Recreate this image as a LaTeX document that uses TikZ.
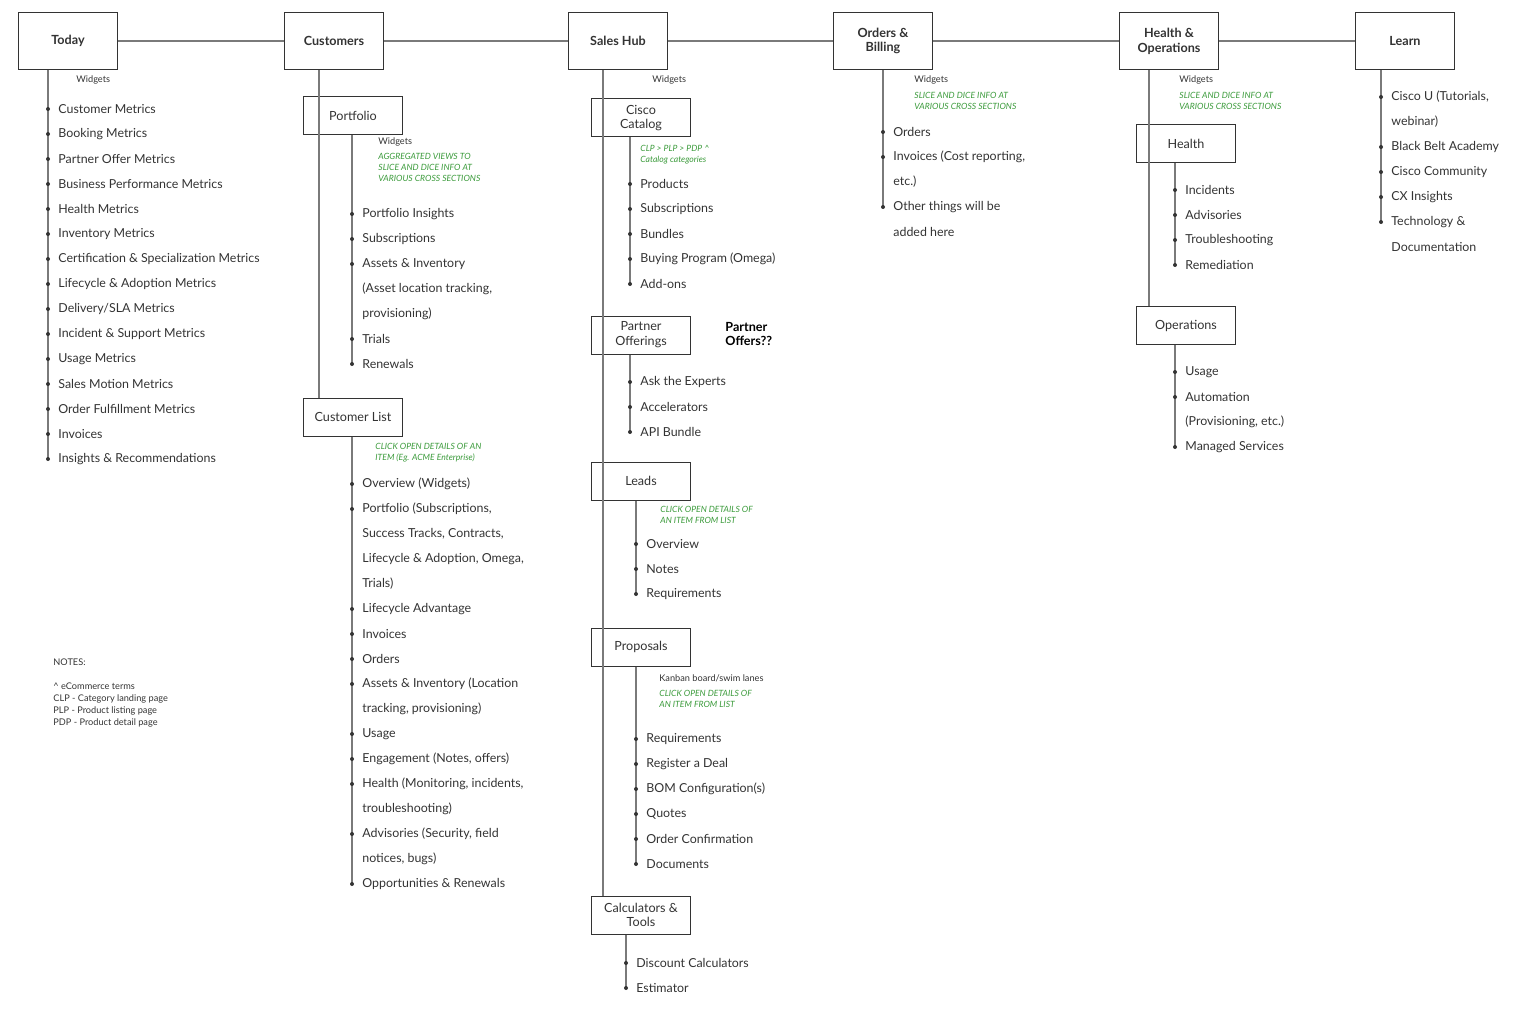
\documentclass[tikz,border=0pt]{standalone}
\usepackage{fontspec}
\setmainfont{Lato}
\usetikzlibrary{positioning}
\definecolor{linegray}{HTML}{7A7A7A}
\definecolor{txtgray}{HTML}{333333}
\definecolor{notegreen}{HTML}{3A9A3A}
\tikzset{
    box/.style={
        draw=txtgray,
        fill=white,
        line width=0.5pt,
        minimum width=49.5pt,
        align=center,
        inner sep=1pt,
        text=txtgray,
        font=\fontsize{6.3}{7.4}\selectfont
    },
    topbox/.style={box, minimum height=28.5pt, font=\fontsize{6.3}{7.4}\selectfont\bfseries},
    subbox/.style={box, minimum height=19pt},
    item/.style={anchor=west, inner sep=0pt, text=txtgray, font=\fontsize{6.2}{7}\selectfont},
    tiny/.style={anchor=west, inner sep=0pt, text=txtgray, font=\fontsize{4.6}{5.5}\selectfont},
    note/.style={anchor=north west, inner sep=0pt, align=left, text=notegreen,
        font=\fontsize{4.3}{5.5}\selectfont\itshape},
    link/.style={draw=linegray, line width=0.6pt}
}
% list of items along a vertical line: bullet flag / text
\newcommand\itemlist[3]{%
    \foreach \b/\t [count=\i from 0] in {#3}{%
        \node[item] at ({#1+10},{#2+1+25*\i}) {\t};
        \ifnum\b=1 \fill[txtgray] ({#1},{#2+1+25*\i}) circle (2);\fi
    }%
}
\begin{document}
\begin{tikzpicture}[x=0.5pt,y=-0.5pt]
    \useasboundingbox (0,0) rectangle (1515,1011);

    % top level
    \node[topbox] (today) at (68,41) {Today};
    \node[topbox] (cust) at (334,41) {Customers};
    \node[topbox] (sales) at (618,41) {Sales Hub};
    \node[topbox] (orders) at (883,41) {Orders \&\\Billing};
    \node[topbox] (health) at (1169,41) {Health \&\\Operations};
    \node[topbox] (learn) at (1405,41) {Learn};
    \draw[link] (today) -- (cust) -- (sales) -- (orders) -- (health) -- (learn);

    % Today
    \coordinate (todayend) at (48,458);
    \draw[link] (today.south -| todayend) -- (todayend);
    \node[tiny] at (76,80) {Widgets};
    \itemlist{48}{108}{1/Customer Metrics, 1/Booking Metrics, 1/Partner Offer Metrics,
        1/Business Performance Metrics, 1/Health Metrics, 1/Inventory Metrics,
        1/Certification \& Specialization Metrics, 1/Lifecycle \& Adoption Metrics,
        1/{Delivery/SLA Metrics}, 1/Incident \& Support Metrics, 1/Usage Metrics,
        1/Sales Motion Metrics, 1/Order Fulfillment Metrics, 1/Invoices,
        1/Insights \& Recommendations}

    \node[tiny] at (53,662) {NOTES:};
    \node[tiny, anchor=north west, align=left, font=\fontsize{4.6}{6}\selectfont] at (53,682)
        {\^{} eCommerce terms\\CLP - Category landing page\\PLP - Product listing page\\PDP - Product detail page};

    % Customers
    \node[subbox] (port) at (353,115.5) {Portfolio};
    \node[subbox] (clist) at (353,417) {Customer List};
    \coordinate (custx) at (319,0);
    \draw[link] (cust.south -| custx) -- (clist.north -| custx);
    \coordinate (portend) at (352,364);
    \draw[link] (port.south -| portend) -- (portend);
    \node[tiny] at (378,142) {Widgets};
    \node[note] at (378,153) {AGGREGATED VIEWS TO\\SLICE AND DICE INFO AT\\VARIOUS CROSS SECTIONS};
    \itemlist{352}{213}{1/Portfolio Insights, 1/Subscriptions, 1/Assets \& Inventory,
        0/{(Asset location tracking,}, 0/provisioning), 1/Trials, 1/Renewals}
    \coordinate (clistend) at (352,884);
    \draw[link] (clist.south -| clistend) -- (clistend);
    \node[note] at (375,443) {CLICK OPEN DETAILS OF AN\\ITEM (Eg. ACME Enterprise)};
    \itemlist{352}{483}{1/Overview (Widgets), 1/{Portfolio (Subscriptions,},
        0/{Success Tracks, Contracts,}, 0/{Lifecycle \& Adoption, Omega,}, 0/Trials),
        1/Lifecycle Advantage, 1/Invoices, 1/Orders, 1/Assets \& Inventory (Location,
        0/{tracking, provisioning)}, 1/Usage, 1/{Engagement (Notes, offers)},
        1/{Health (Monitoring, incidents,}, 0/troubleshooting), 1/{Advisories (Security, field},
        0/{notices, bugs)}, 1/Opportunities \& Renewals}

    % Sales Hub
    \node[tiny] at (652,80) {Widgets};
    \node[subbox] (catalog) at (641,118) {Cisco\\Catalog};
    \node[subbox] (partner) at (641,335) {Partner\\Offerings};
    \node[subbox] (leads) at (641,481) {Leads};
    \node[subbox] (props) at (641,647) {Proposals};
    \node[subbox] (calc) at (641,915) {Calculators \&\\Tools};
    \coordinate (salesx) at (603,0);
    \draw[link] (sales.south -| salesx) -- (calc.north -| salesx);

    \coordinate (catend) at (630,284);
    \draw[link] (catalog.south -| catend) -- (catend);
    \node[note] at (640,145) {CLP > PLP > PDP \^{}\\Catalog categories};
    \itemlist{630}{183}{1/Products, 1/Subscriptions, 1/Bundles, 1/Buying Program (Omega), 1/Add-ons}

    \node[anchor=west, align=left, inner sep=0pt, text=black,
        font=\fontsize{6.3}{7.4}\selectfont\bfseries] at (725,334) {Partner\\Offers??};
    \coordinate (partend) at (630,432);
    \draw[link] (partner.south -| partend) -- (partend);
    \itemlist{630}{381}{1/Ask the Experts, 1/Accelerators, 1/API Bundle}

    \coordinate (leadsend) at (636,594);
    \draw[link] (leads.south -| leadsend) -- (leadsend);
    \node[note] at (660,506) {CLICK OPEN DETAILS OF\\AN ITEM FROM LIST};
    \itemlist{636}{543}{1/Overview, 1/Notes, 1/Requirements}

    \coordinate (propsend) at (636,864);
    \draw[link] (props.south -| propsend) -- (propsend);
    \node[tiny] at (659,678) {Kanban board/swim lanes};
    \node[note] at (659,690) {CLICK OPEN DETAILS OF\\AN ITEM FROM LIST};
    \itemlist{636}{738}{1/Requirements, 1/Register a Deal, 1/BOM Configuration(s),
        1/Quotes, 1/Order Confirmation, 1/Documents}

    \coordinate (calcend) at (626,988);
    \draw[link] (calc.south -| calcend) -- (calcend);
    \itemlist{626}{962}{1/Discount Calculators, 1/Estimator}

    % Orders & Billing
    \coordinate (ordend) at (883,207);
    \draw[link] (orders.south -| ordend) -- (ordend);
    \node[tiny] at (914,80) {Widgets};
    \node[note] at (914,92) {SLICE AND DICE INFO AT\\VARIOUS CROSS SECTIONS};
    \itemlist{883}{131}{1/Orders, 1/{Invoices (Cost reporting,}, 0/etc.), 1/Other things will be, 0/added here}

    % Health & Operations
    \node[tiny] at (1179,80) {Widgets};
    \node[note] at (1179,92) {SLICE AND DICE INFO AT\\VARIOUS CROSS SECTIONS};
    \node[subbox] (hlth) at (1186,143.5) {Health};
    \node[subbox] (ops) at (1186,325.5) {Operations};
    \coordinate (healthx) at (1149,0);
    \draw[link] (health.south -| healthx) -- (ops.north -| healthx);
    \coordinate (hlthend) at (1175,265);
    \draw[link] (hlth.south -| hlthend) -- (hlthend);
    \itemlist{1175}{189}{1/Incidents, 1/Advisories, 1/Troubleshooting, 1/Remediation}
    \coordinate (opsend) at (1175,447);
    \draw[link] (ops.south -| opsend) -- (opsend);
    \itemlist{1175}{371}{1/Usage, 1/Automation, 0/{(Provisioning, etc.)}, 1/Managed Services}

    % Learn
    \coordinate (learnend) at (1381,222);
    \draw[link] (learn.south -| learnend) -- (learnend);
    \itemlist{1381}{96}{1/{Cisco U (Tutorials,}, 0/webinar), 1/Black Belt Academy,
        1/Cisco Community, 1/CX Insights, 1/Technology \&, 0/Documentation}
\end{tikzpicture}
\end{document}
